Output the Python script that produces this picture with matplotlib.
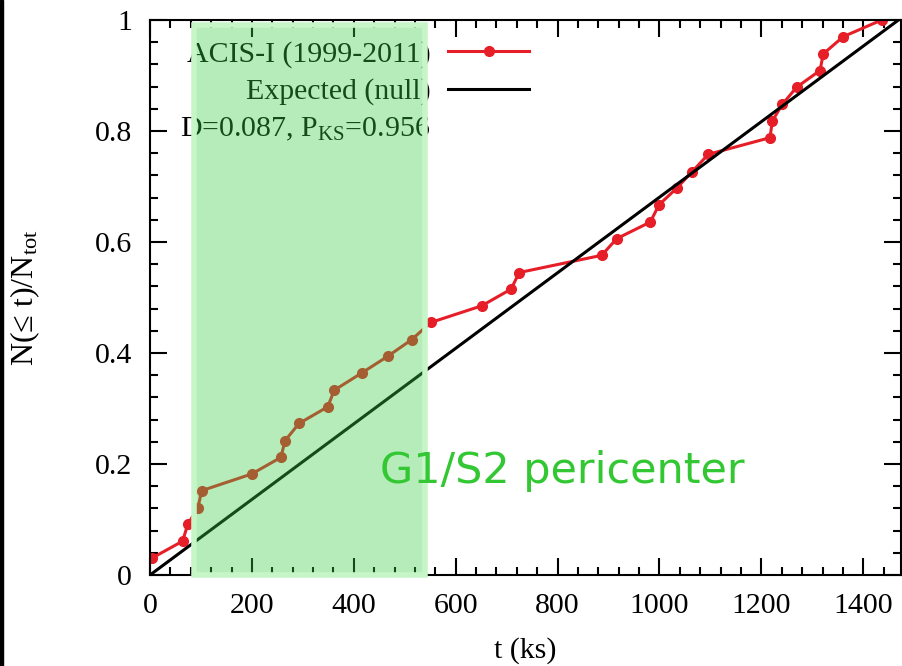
import matplotlib
matplotlib.use("Agg")
import matplotlib.pyplot as plt
from matplotlib.patches import Rectangle
from matplotlib.lines import Line2D
from matplotlib.ticker import MultipleLocator

# Cumulative arrival fraction of flares vs. time
t_ks = [3, 64, 74, 94, 101.5, 199.6, 257, 265, 292.4, 348.8, 361.7, 415.5,
        466.5, 513.6, 551, 651, 708.5, 724.8, 886.5, 916, 982, 999, 1033.7,
        1064.4, 1095.8, 1216.9, 1221.4, 1241, 1269.3, 1315, 1321.5, 1360.7, 1436]
frac = [0.030, 0.061, 0.091, 0.121, 0.152, 0.182, 0.212, 0.242, 0.273, 0.303,
        0.333, 0.364, 0.394, 0.424, 0.455, 0.485, 0.515, 0.545, 0.576, 0.606,
        0.636, 0.667, 0.697, 0.727, 0.758, 0.788, 0.818, 0.848, 0.879, 0.909,
        0.939, 0.970, 1.000]

# Expected (null) uniform distribution
null_t = [0, 1469]
null_frac = [0, 1]

# Pericenter window
peri_start, peri_end = 86.4, 539.7

label_obs = "ACIS-I (1999-2011)"
label_null = "Expected (null)"
label_ks = r"D=0.087, P$_{\rm KS}$=0.956"

plt.rcParams["font.family"] = ["Liberation Serif", "DejaVu Serif"]
plt.rcParams["mathtext.fontset"] = "custom"
plt.rcParams["mathtext.rm"] = "Liberation Serif"
plt.rcParams["mathtext.it"] = "Liberation Serif:italic"
plt.rcParams["font.size"] = 21.5

red = "#e61e28"
fig = plt.figure(figsize=(9.02, 6.66), dpi=100)
ax = fig.add_axes([150 / 902, 1 - 575 / 666, 751 / 902, 555 / 666])

ax.plot(t_ks, frac, color=red, lw=2.2, marker="o", ms=7, label=label_obs)
ax.plot(null_t, null_frac, color="black", lw=2.2, label=label_null)

ax.set_xlim(0, 1474)
ax.set_ylim(0, 1)
ax.xaxis.set_major_locator(MultipleLocator(200))
ax.xaxis.set_minor_locator(MultipleLocator(40))
ax.yaxis.set_major_locator(MultipleLocator(0.2))
ax.yaxis.set_minor_locator(MultipleLocator(0.04))
ax.set_yticks([0, 0.2, 0.4, 0.6, 0.8, 1.0], ["0", "0.2", "0.4", "0.6", "0.8", "1"])
ax.tick_params(which="both", direction="in", top=True, right=True, width=1.5, pad=13)
ax.tick_params(which="major", length=12)
ax.tick_params(which="minor", length=6)
for s in ax.spines.values():
    s.set_linewidth(1.5)

ax.set_xlabel("t (ks)", labelpad=13)
ax.set_ylabel(r"N(≤ t)/N$_{\rm tot}$", labelpad=38, fontsize=23)

handles = [Line2D([], [], color=red, lw=2.2, marker="o", ms=7),
           Line2D([], [], color="black", lw=2.2),
           Line2D([], [], color="none")]
ax.legend(handles, [label_obs, label_null, label_ks], loc="upper right",
          bbox_to_anchor=(529 / 902, 1 - 41 / 666), bbox_transform=fig.transFigure,
          frameon=False, markerfirst=False, handlelength=2.7, handletextpad=0.6,
          borderpad=0, borderaxespad=0, labelspacing=0.33)

region = Rectangle((peri_start, 0), peri_end - peri_start, 0.991,
                   facecolor=(0.216, 0.808, 0.259, 0.37),
                   edgecolor="#c6f5c8", lw=4, zorder=10, clip_on=False)
ax.add_patch(region)

ax.text(451, 0.166, "G1/S2 pericenter", color="#33c833", fontsize=31,
        family="DejaVu Sans", ha="left", va="baseline", zorder=11)

fig.add_artist(Rectangle((0, 0), 3 / 902, 1, transform=fig.transFigure,
                         color="black"))

fig.savefig("out.png", dpi=100)
